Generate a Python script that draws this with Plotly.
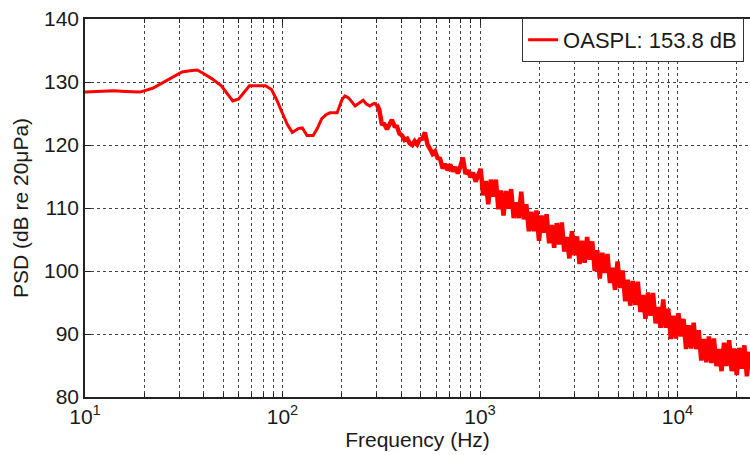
import plotly.graph_objects as go

# ---- data ----
freq_hz = [
    10, 12, 14, 16, 19, 22, 25, 28, 31, 34, 37, 40, 44, 49, 53, 56, 60, 64, 68, 75,
    82, 88, 94, 100, 106, 112, 120, 126, 133, 143, 150, 158, 166, 174, 189, 200, 207,
    215, 220, 233, 245, 256, 266, 277, 290,
    300, 309, 318, 328, 338, 348, 358, 369, 380, 391, 403, 415, 428, 440, 454, 467,
    481, 496, 511, 526, 542, 558, 575, 592, 610, 628, 647, 666, 686, 707, 728, 750,
    772, 796, 819, 844, 869, 895, 922, 950, 978, 1008, 1038, 1069, 1101, 1134, 1168,
    1203, 1239, 1276, 1315, 1354, 1395, 1437, 1480, 1524, 1570, 1617, 1665, 1715,
    1767, 1820, 1874, 1931, 1989, 2048, 2110, 2173, 2238, 2305, 2374, 2446, 2519,
    2595, 2672, 2752, 2835, 2920, 3008, 3098, 3191, 3287, 3385, 3487, 3591, 3699,
    3810, 3924, 4042, 4163, 4288, 4417, 4549, 4686, 4826, 4971, 5120, 5274, 5432,
    5595, 5763, 5936, 6114, 6297, 6486, 6681, 6881, 7088, 7300, 7519, 7745, 7978,
    8217, 8464, 8718, 8979, 9249, 9526, 9812, 10106, 10410, 10722, 11044, 11375,
    11716, 12068, 12430, 12803, 13187, 13582, 13990, 14410, 14842, 15287, 15746,
    16218, 16705, 17206, 17722, 18254, 18801, 19365, 19946, 20545, 21161, 21796,
    22450, 23124,
]
psd_db = [
    128.4, 128.5, 128.6, 128.5, 128.4, 129.0, 130.0, 130.8, 131.6, 131.8, 131.9, 131.3,
    130.5, 129.4, 128.0, 127.0, 127.3, 128.3, 129.4, 129.4, 129.4, 128.8, 127.0, 125.0,
    123.2, 122.0, 122.6, 122.7, 121.5, 121.5, 122.6, 124.2, 124.8, 125.1, 125.1, 127.2,
    127.8, 127.5, 127.2, 126.2, 126.7, 127.1, 126.5, 126.2, 126.6,
    126.5, 125.6, 123.4, 123.3, 122.5, 123.4, 124.0, 123.0, 122.9, 121.8, 121.5, 120.8,
    121.0, 120.3, 120.0, 120.6, 120.1, 120.9, 121.0, 122.0, 120.1, 119.4, 118.6, 119.0,
    117.9, 117.8, 116.3, 117.0, 116.0, 116.9, 115.8, 116.5, 115.5, 116.6, 118.0, 115.4,
    116.0, 114.9, 115.6, 114.2, 115.0,
    116.2, 112.0, 114.3, 110.6, 114.5, 111.8, 114.5, 109.8, 112.8, 108.8, 112.7, 109.9,
    113.0, 108.4, 110.9, 108.4, 112.6, 108.2, 110.6, 106.3, 109.4, 106.3, 109.6, 104.8,
    108.8, 106.1, 109.0, 104.4, 107.3, 103.7, 107.6, 104.2, 107.7, 103.1, 105.4, 102.0,
    106.3, 102.5, 105.5, 101.1, 104.8, 101.3, 105.4, 101.8, 104.7, 100.0, 103.3, 98.8,
    102.9, 99.7, 102.7, 98.1, 100.5, 97.0, 101.5, 97.3, 100.1, 95.2, 98.6, 94.5, 98.4,
    94.6, 98.3, 93.5, 96.2, 92.4, 96.6, 92.9, 96.5, 91.7, 94.3, 91.0, 95.5, 91.0, 94.0,
    89.2, 92.9, 89.3, 93.3, 89.6, 92.4, 87.6, 91.4, 87.7, 91.8, 87.6, 90.6, 85.8, 89.2,
    85.5, 89.6, 85.4, 89.3, 84.9, 87.6, 84.1, 88.6, 84.9, 89.0, 84.1, 87.7, 83.5, 87.8,
    84.5, 88.2, 83.3, 87.2,
]
series_name = "OASPL: 153.8 dB"
smooth_until_hz = 300   # below this the spectrum is smooth, above it noisy

x_major_ticks = [10, 100, 1000, 10000]
x_major_labels = ["10<sup>1</sup>", "10<sup>2</sup>", "10<sup>3</sup>", "10<sup>4</sup>"]
x_minor_ticks = [20, 30, 40, 50, 60, 70, 80, 90,
                 200, 300, 400, 500, 600, 700, 800, 900,
                 2000, 3000, 4000, 5000, 6000, 7000, 8000, 9000,
                 20000]
y_ticks = [80, 90, 100, 110, 120, 130, 140]

x_title = "Frequency (Hz)"
y_title = "PSD (dB re 20μPa)"

FONT = "Liberation Sans, Arial, Helvetica, sans-serif"
GRID = "#454545"
RED = "#ff0000"

split = freq_hz.index(smooth_until_hz)
f_smooth, p_smooth = freq_hz[:split + 1], psd_db[:split + 1]
f_noisy, p_noisy = freq_hz[split:], psd_db[split:]

fig = go.Figure()
fig.add_trace(go.Scatter(
    x=f_smooth, y=p_smooth, mode="lines", name=series_name,
    line=dict(color=RED, width=3), legendgroup="s",
))
fig.add_trace(go.Scatter(
    x=f_noisy, y=p_noisy, mode="lines", name=series_name, showlegend=False,
    line=dict(color=RED, width=4.5), legendgroup="s",
))

fig.update_layout(
    width=750, height=455,
    margin=dict(l=85, r=0, t=19, b=58, autoexpand=False),
    paper_bgcolor="white", plot_bgcolor="white",
    font=dict(family=FONT, size=21, color="#1a1a1a"),
    showlegend=True,
    legend=dict(
        x=0.657, y=1.003, xanchor="left", yanchor="top",
        bgcolor="white", bordercolor="#333333", borderwidth=1.2,
        font=dict(family=FONT, size=22, color="#1a1a1a"),
        itemwidth=30, tracegroupgap=0,
    ),
)

fig.update_xaxes(
    type="log", range=[1, 4.367], automargin=False,
    tickmode="array", tickvals=x_major_ticks, ticktext=x_major_labels,
    ticks="inside", ticklen=6, tickwidth=1, tickcolor="#222",
    showline=True, linecolor="#222", linewidth=1.5, mirror="ticks",
    showgrid=True, gridcolor=GRID, griddash="dot", gridwidth=1,
    minor=dict(tickmode="array", tickvals=x_minor_ticks, ticks="inside", ticklen=4,
               tickcolor="#222", showgrid=True, gridcolor=GRID, griddash="dot",
               gridwidth=1),
    zeroline=False,
    title=dict(text=x_title, standoff=2, font=dict(size=21)),
)
fig.update_yaxes(
    range=[80, 140], tickmode="array", tickvals=y_ticks, automargin=False,
    ticks="inside", ticklen=6, tickwidth=1, tickcolor="#222",
    showline=True, linecolor="#222", linewidth=1.5, mirror=False,
    showgrid=True, gridcolor=GRID, griddash="dot", gridwidth=1,
    zeroline=False, ticklabelstandoff=0,
    title=dict(text=y_title, standoff=10, font=dict(size=21)),
)

# remove the browser's default 8px page margin so the figure sits at (0, 0)
fig.write_html(
    "out.html",
    config={"displayModeBar": False},
    post_script="document.body.style.margin='0px';document.body.style.overflow='hidden';",
)
